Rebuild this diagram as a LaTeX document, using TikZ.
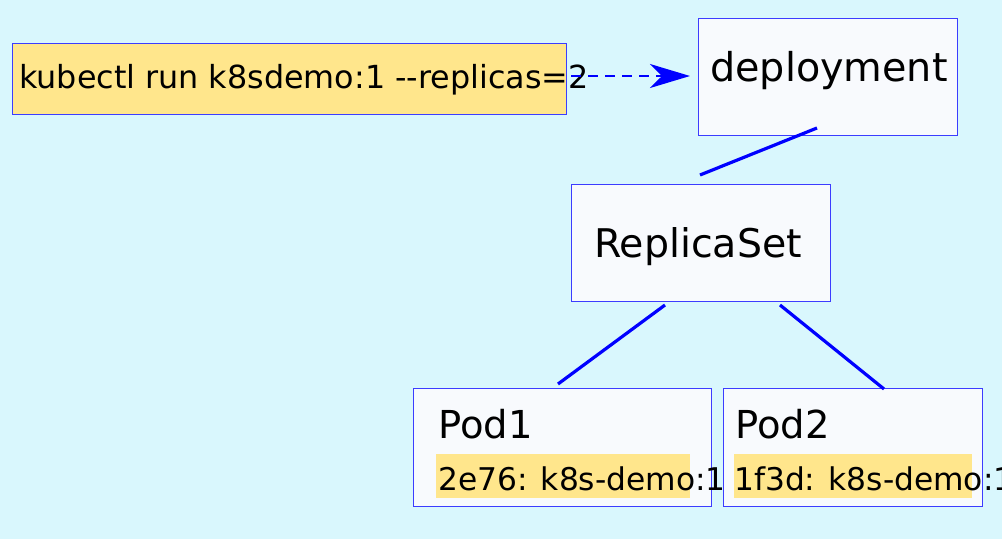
\documentclass[tikz,border=0pt]{standalone}
\usepackage{fontspec}
\setmainfont{DejaVu Sans}[Ligatures=ResetAll]
\usetikzlibrary{arrows.meta}
\definecolor{bgc}{RGB}{217,247,253}
\definecolor{hl}{RGB}{255,230,140}
\definecolor{boxfill}{RGB}{248,250,253}
\definecolor{edge}{RGB}{60,60,255}
\definecolor{conn}{RGB}{0,0,255}
\tikzset{
  box/.style={draw=edge, line width=0.9pt, fill=boxfill, inner sep=0pt, anchor=north west},
  cmdbox/.style={draw=edge, line width=0.9pt, fill=hl, inner sep=0pt, anchor=north west},
  hlbox/.style={fill=hl, inner sep=0pt, anchor=north west},
  txt/.style={anchor=base west, inner sep=0pt, text=black},
  link/.style={draw=conn, line width=3.2pt},
  dashlink/.style={draw=conn, line width=2pt, dash pattern=on 10pt off 7pt,
    -{Stealth[length=40pt,width=24pt,inset=12pt]}}
}
\begin{document}
\begin{tikzpicture}[x=1pt,y=-1pt]
\useasboundingbox (0,0) rectangle (1002,539);
\fill[bgc] (0,0) rectangle (1002,539);
% boxes
\node[cmdbox, minimum width=554pt, minimum height=71pt] (cmd) at (12,43) {};
\node[box, minimum width=259pt, minimum height=117pt] (dep) at (698,18) {};
\node[box, minimum width=259pt, minimum height=117pt] (rs) at (571,184) {};
\node[box, minimum width=298pt, minimum height=118pt] (pod1) at (413,388) {};
\node[box, minimum width=259pt, minimum height=118pt] (pod2) at (723,388) {};
\node[hlbox, minimum width=254pt, minimum height=44pt] (hl1) at (436,454) {};
\node[hlbox, minimum width=238pt, minimum height=44pt] (hl2) at (734,454) {};
% texts
\node[txt, font=\fontsize{31.8}{36}\selectfont] (cmdt) at (19,88) {kubectl run k8sdemo:1 -{}-replicas=2};
\node[txt, font=\fontsize{39.7}{44}\selectfont] (dept) at (710,81) {deployment};
\node[txt, font=\fontsize{39.5}{44}\selectfont] (rst) at (594,257) {ReplicaSet};
\node[txt, font=\fontsize{38.5}{42}\selectfont] (p1t) at (438,438) {Pod1};
\node[txt, font=\fontsize{38.5}{42}\selectfont] (p2t) at (735,438) {Pod2};
\node[txt, font=\fontsize{31.3}{34}\selectfont] (h1t) at (438,490) {2e76: k8s-demo:1};
\node[txt, font=\fontsize{31.3}{34}\selectfont] (h2t) at (734,490) {1f3d: k8s-demo:1};
% connector endpoints
\coordinate (a0) at (571,76);
\coordinate (a1) at (690,76);
\coordinate (d0) at (817,128);
\coordinate (r0) at (700,175);
\coordinate (r1) at (665,305);
\coordinate (p1) at (558,384);
\coordinate (r2) at (780,305);
\coordinate (p2) at (884,389);
% connectors
\draw[dashlink] (a0) -- (a1);
\draw[link] (d0) -- (r0);
\draw[link] (r1) -- (p1);
\draw[link] (r2) -- (p2);
\end{tikzpicture}
\end{document}
